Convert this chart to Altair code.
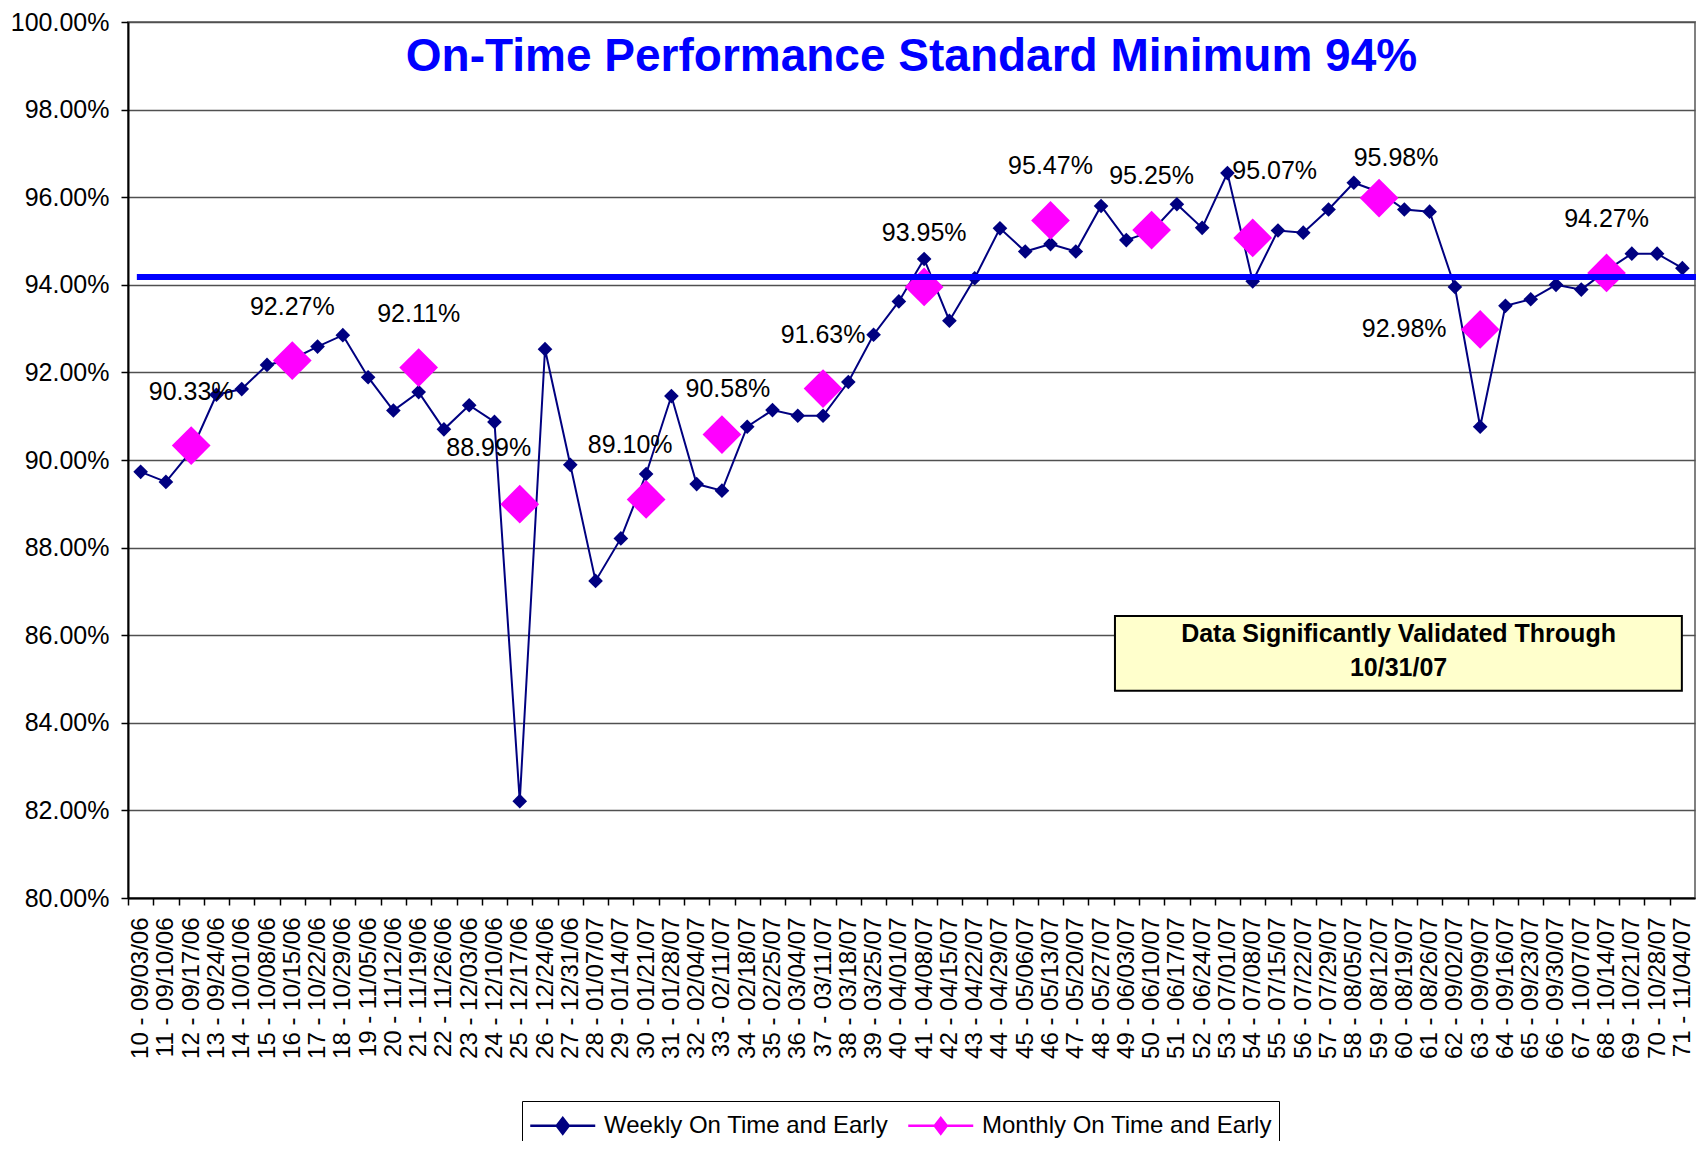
import altair as alt
import pandas as pd

# ---------------- data ----------------
categories = [
    "10 - 09/03/06", "11 - 09/10/06", "12 - 09/17/06", "13 - 09/24/06", "14 - 10/01/06",
    "15 - 10/08/06", "16 - 10/15/06", "17 - 10/22/06", "18 - 10/29/06", "19 - 11/05/06",
    "20 - 11/12/06", "21 - 11/19/06", "22 - 11/26/06", "23 - 12/03/06", "24 - 12/10/06",
    "25 - 12/17/06", "26 - 12/24/06", "27 - 12/31/06", "28 - 01/07/07", "29 - 01/14/07",
    "30 - 01/21/07", "31 - 01/28/07", "32 - 02/04/07", "33 - 02/11/07", "34 - 02/18/07",
    "35 - 02/25/07", "36 - 03/04/07", "37 - 03/11/07", "38 - 03/18/07", "39 - 03/25/07",
    "40 - 04/01/07", "41 - 04/08/07", "42 - 04/15/07", "43 - 04/22/07", "44 - 04/29/07",
    "45 - 05/06/07", "46 - 05/13/07", "47 - 05/20/07", "48 - 05/27/07", "49 - 06/03/07",
    "50 - 06/10/07", "51 - 06/17/07", "52 - 06/24/07", "53 - 07/01/07", "54 - 07/08/07",
    "55 - 07/15/07", "56 - 07/22/07", "57 - 07/29/07", "58 - 08/05/07", "59 - 08/12/07",
    "60 - 08/19/07", "61 - 08/26/07", "62 - 09/02/07", "63 - 09/09/07", "64 - 09/16/07",
    "65 - 09/23/07", "66 - 09/30/07", "67 - 10/07/07", "68 - 10/14/07", "69 - 10/21/07",
    "70 - 10/28/07", "71 - 11/04/07",
]

weekly_values = [
    89.73, 89.50, 90.20, 91.49, 91.62, 92.17, 92.30, 92.59, 92.85, 91.89,
    91.13, 91.55, 90.70, 91.25, 90.87, 82.21, 92.53, 89.89, 87.24, 88.21,
    89.68, 91.46, 89.45, 89.30, 90.76, 91.14, 91.01, 91.01, 91.78, 92.86,
    93.62, 94.59, 93.18, 94.15, 95.29, 94.76, 94.93, 94.76, 95.80, 95.02,
    95.22, 95.84, 95.30, 96.55, 94.08, 95.24, 95.19, 95.72, 96.33, 96.12,
    95.72, 95.67, 93.95, 90.76, 93.52, 93.67, 94.00, 93.89, 94.33, 94.71,
    94.71, 94.38,
]

monthly_weeks = [12, 16, 21, 25, 30, 33, 37, 41, 46, 50, 54, 59, 63, 68]
monthly_values = [90.33, 92.27, 92.11, 88.99, 89.10, 90.58, 91.63, 93.95,
                  95.47, 95.25, 95.07, 95.98, 92.98, 94.27]

series_names = ["Weekly On Time and Early", "Monthly On Time and Early"]
y_ticks = [80, 82, 84, 86, 88, 90, 92, 94, 96, 98, 100]
standard_line = 94.18
title_text = "On-Time Performance Standard Minimum 94%"
note_text = "Data Significantly Validated Through\n10/31/07"

# ---------------- layout / style ----------------
W, H = 1567, 876
PAD_TOP = 14
N = len(categories)
STEP = W / N
FONT = "Liberation Sans"
NAVY = "#000080"
MAGENTA = "#FF00FF"

# annotation placements (in axis units)
TITLE_POS = (30.5, 99.19)
NOTE_BOX = (38.55, 60.98, 86.44, 84.73)
NOTE_FIRST_LINE = (49.77, 86.02)
RULE_SPAN = (-0.15, 61.86)

# label nudges (pixels) for monthly data labels; default above the marker
DEFAULT_NUDGE = (0, -54)
label_nudge = {
    "88.99%": (-31, -56),
    "89.10%": (-16, -54),
    "90.58%": (6, -46),
    "95.07%": (22, -67),
    "95.98%": (17, -40),
    "92.98%": (-76, 0),
}

# ---------------- tables ----------------
week_numbers = [int(c.split(" - ")[0]) for c in categories]
weekly_df = pd.DataFrame({
    "idx": list(range(N)),
    "value": weekly_values,
    "series": [series_names[0]] * N,
})
monthly_df = pd.DataFrame({
    "idx": [week_numbers.index(w) for w in monthly_weeks],
    "value": monthly_values,
})
monthly_df["label"] = [f"{v:.2f}%" for v in monthly_values]
monthly_df["nudge"] = [str(label_nudge.get(l, DEFAULT_NUDGE)) for l in monthly_df["label"]]

label_array = "[" + ",".join("'" + c + "'" for c in categories) + "]"

x_enc = alt.X(
    "idx:Q",
    scale=alt.Scale(domain=[-0.5, N - 0.5], nice=False, zero=False),
    axis=alt.Axis(
        values=list(range(N)),
        labelExpr=label_array + "[datum.value]",
        labelAngle=270,
        labelFontSize=24,
        labelFont=FONT,
        labelColor="black",
        labelOverlap=False,
        labelFlush=False,
        labelBound=False,
        labelPadding=12,
        tickSize=7,
        tickColor="black",
        tickWidth=1.5,
        tickOffset=-STEP / 2,
        labelOffset=STEP / 2,
        domainColor="black",
        domainWidth=2,
        grid=False,
        title=None,
    ),
)
y_enc = alt.Y(
    "value:Q",
    scale=alt.Scale(domain=[80, 100], nice=False, zero=False),
    axis=alt.Axis(
        values=y_ticks,
        labelExpr="format(datum.value, '.2f') + '%'",
        labelFontSize=25,
        labelFont=FONT,
        labelColor="black",
        labelPadding=12,
        tickSize=7,
        tickColor="black",
        tickWidth=1.5,
        domainColor="black",
        domainWidth=2,
        grid=True,
        gridColor="#505050",
        gridWidth=1.3,
        title=None,
    ),
)

# line with a diamond in its middle; drawn from the symbol's left edge to the right
legend_symbol = (
    "M-1,0L3,0"
    "M1,-0.48L1.37,0L1,0.48L0.63,0Z"
    "M1,-0.33L1.25,0L1,0.33L0.75,0Z"
    "M1,-0.17L1.13,0L1,0.17L0.87,0Z"
)

line = alt.Chart(weekly_df).mark_line(strokeWidth=2).encode(
    x=x_enc,
    y=y_enc,
    color=alt.Color(
        "series:N",
        scale=alt.Scale(domain=series_names, range=[NAVY, MAGENTA]),
        legend=alt.Legend(
            title=None,
            orient="none",
            legendX=394,
            legendY=1101 - 8 - PAD_TOP,
            direction="horizontal",
            symbolType=legend_symbol,
            symbolSize=1056,
            symbolStrokeWidth=2.5,
            labelFontSize=24,
            labelFont=FONT,
            labelColor="black",
            labelOffset=40,
            labelLimit=600,
            columnPadding=14,
            padding=7,
            strokeColor="black",
            fillColor="white",
        ),
    ),
)

weekly_pts = alt.Chart(weekly_df).mark_point(
    shape="diamond", filled=True, size=215, color=NAVY, opacity=1
).encode(x=x_enc, y=y_enc)

monthly_pts = alt.Chart(monthly_df).mark_point(
    shape="diamond", filled=True, size=1500, color=MAGENTA, opacity=1
).encode(x=x_enc, y=y_enc)

label_layers = []
for nudge in sorted(set(monthly_df["nudge"])):
    dx, dy = eval(nudge)
    label_layers.append(
        alt.Chart(monthly_df[monthly_df["nudge"] == nudge]).mark_text(
            font=FONT, fontSize=25, color="black", dx=dx, dy=dy,
            align="center", baseline="middle",
        ).encode(x=x_enc, y=y_enc, text="label:N")
    )

rule_df = pd.DataFrame({"idx": [RULE_SPAN[0]], "idx2": [RULE_SPAN[1]], "value": [standard_line]})
rule = alt.Chart(rule_df).mark_rule(color="#0000FF", strokeWidth=6).encode(
    x=x_enc, x2="idx2:Q", y=y_enc
)

title_df = pd.DataFrame({"idx": [TITLE_POS[0]], "value": [TITLE_POS[1]], "t": [title_text]})
title = alt.Chart(title_df).mark_text(
    font=FONT, fontSize=46, fontWeight="bold", color="#0000FF",
    align="center", baseline="middle",
).encode(x=x_enc, y=y_enc, text="t:N")

box_df = pd.DataFrame({
    "idx": [NOTE_BOX[0]], "idx2": [NOTE_BOX[1]],
    "value": [NOTE_BOX[2]], "value2": [NOTE_BOX[3]],
})
box = alt.Chart(box_df).mark_rect(fill="#FFFFCC", stroke="black", strokeWidth=2).encode(
    x=x_enc, x2="idx2:Q", y=y_enc, y2="value2:Q"
)
note_df = pd.DataFrame({"idx": [NOTE_FIRST_LINE[0]], "value": [NOTE_FIRST_LINE[1]], "t": [note_text]})
note = alt.Chart(note_df).mark_text(
    font=FONT, fontSize=25, fontWeight="bold", color="black",
    align="center", baseline="middle", lineBreak="\n", lineHeight=33.5,
).encode(x=x_enc, y=y_enc, text="t:N")

chart = alt.layer(
    line, weekly_pts, monthly_pts, *label_layers, rule, title, box, note
).properties(
    width=W,
    height=H,
    autosize=alt.AutoSizeParams(type="none"),
    padding={"left": 120, "top": PAD_TOP, "right": 1, "bottom": 1133 - PAD_TOP - H},
    background="white",
).configure_view(
    stroke="#808080", strokeWidth=2
)

chart.save("out.html", embed_options={"renderer": "svg", "actions": False})
